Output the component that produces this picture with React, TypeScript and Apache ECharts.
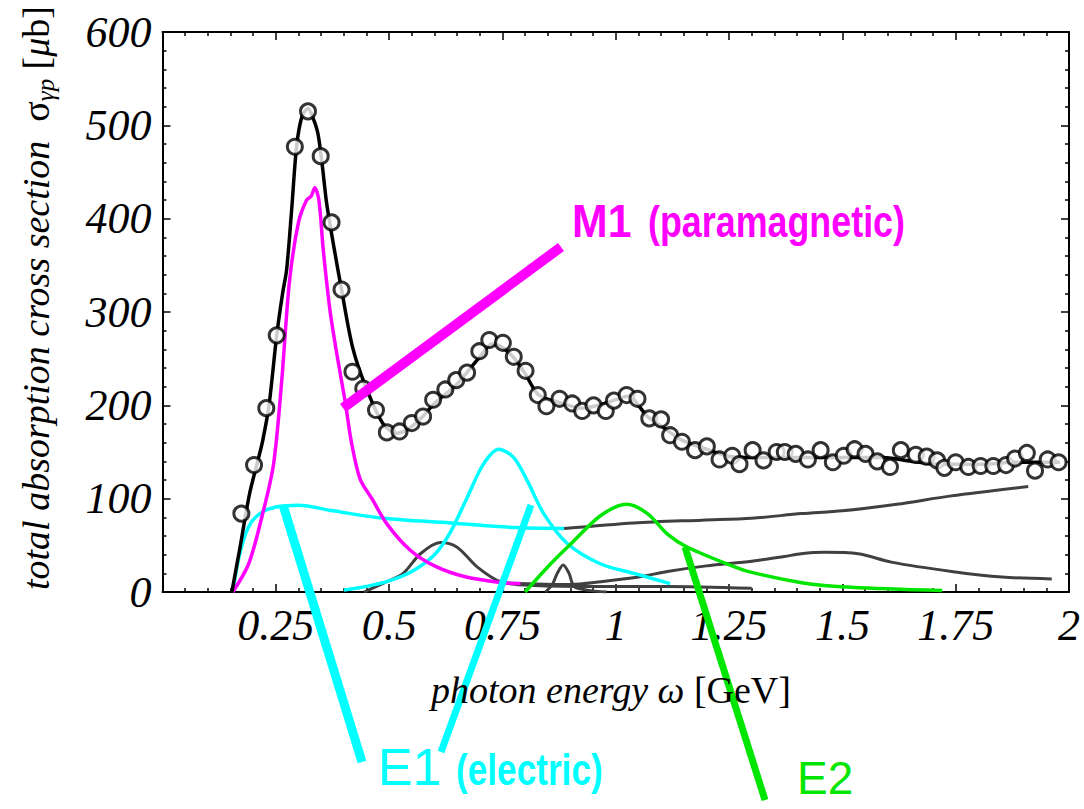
import React, { useEffect, useRef } from "react";
import * as echarts from "echarts";

// ---- data (photon energy in GeV, cross section in microbarn) ----
const totalFit: number[][] = [
  [0.153, 0], [0.17, 45], [0.192, 105], [0.21, 140], [0.221, 162], [0.235, 200], [0.252, 275],
  [0.265, 320], [0.274, 346], [0.285, 410], [0.296, 478], [0.308, 510], [0.321, 518], [0.332, 508],
  [0.343, 491], [0.353, 455], [0.362, 417], [0.378, 370], [0.395, 324], [0.42, 261], [0.45, 218],
  [0.487, 180], [0.517, 170], [0.54, 174], [0.57, 186], [0.6, 202], [0.65, 223], [0.7, 252],
  [0.728, 266], [0.75, 262], [0.775, 251], [0.8, 234], [0.826, 213], [0.85, 206], [0.87, 204],
  [0.925, 197], [0.96, 200], [0.993, 205], [1.03, 210], [1.05, 200], [1.07, 188], [1.1, 178],
  [1.145, 163], [1.2, 153], [1.257, 145], [1.33, 144], [1.45, 144], [1.59, 144], [1.64, 141],
  [1.71, 137], [1.81, 137], [1.88, 139], [1.98, 139],
];

const dataPoints: number[][] = [
  [0.174, 84], [0.202, 136], [0.229, 197], [0.252, 275], [0.292, 477], [0.321, 515], [0.349, 467],
  [0.373, 396], [0.395, 324], [0.419, 236], [0.443, 218], [0.471, 195], [0.495, 171], [0.523, 172],
  [0.55, 181], [0.575, 188], [0.597, 206], [0.624, 217], [0.648, 227], [0.672, 235], [0.699, 258],
  [0.721, 270], [0.751, 267], [0.775, 252], [0.801, 237], [0.828, 211], [0.847, 199], [0.876, 207],
  [0.904, 202], [0.926, 194], [0.951, 200], [0.978, 194], [0.996, 205], [1.024, 211], [1.048, 207],
  [1.074, 186], [1.1, 185], [1.12, 168], [1.146, 161], [1.175, 152], [1.201, 156], [1.229, 142],
  [1.257, 146], [1.273, 137], [1.302, 152], [1.326, 141], [1.355, 150], [1.373, 150], [1.397, 148],
  [1.424, 142], [1.452, 152], [1.479, 139], [1.503, 146], [1.527, 153], [1.551, 148], [1.577, 140],
  [1.605, 134], [1.629, 152], [1.662, 147], [1.686, 145], [1.709, 141], [1.725, 133], [1.75, 139],
  [1.778, 134], [1.805, 135], [1.833, 135], [1.861, 136], [1.881, 143], [1.907, 149], [1.925, 130],
  [1.953, 142], [1.977, 139],
];

const m1Curve: number[][] = [
  [0.155, 0], [0.19, 30], [0.22, 82], [0.245, 137], [0.263, 226], [0.28, 332], [0.3, 396],
  [0.318, 420], [0.328, 424], [0.336, 433], [0.345, 420], [0.355, 365], [0.37, 300], [0.385, 254],
  [0.403, 204], [0.417, 160], [0.436, 121], [0.462, 100], [0.495, 73], [0.546, 45], [0.6, 28],
  [0.67, 16], [0.75, 10], [0.79, 9],
];

const e1Broad: number[][] = [
  [0.155, 0], [0.17, 40], [0.19, 70], [0.215, 84], [0.25, 91], [0.3, 93], [0.376, 87],
  [0.487, 79], [0.635, 74], [0.78, 69], [0.886, 68],
];

const broadTail: number[][] = [
  [0.886, 68], [1.04, 74], [1.19, 77], [1.3, 79], [1.41, 84], [1.5, 87], [1.62, 94],
  [1.74, 103], [1.91, 113],
];

const e1Resonance: number[][] = [
  [0.4, 2], [0.45, 6], [0.5, 12], [0.55, 22], [0.6, 40], [0.635, 64], [0.672, 101], [0.708, 137],
  [0.742, 153], [0.775, 144], [0.805, 119], [0.841, 84], [0.893, 52], [0.967, 30], [1.04, 20],
  [1.12, 9],
];

const grayPeakA: number[][] = [
  [0.445, 0], [0.49, 10], [0.531, 20], [0.569, 41], [0.613, 53], [0.65, 48], [0.694, 27],
  [0.746, 11], [0.82, 7], [0.97, 6], [1.11, 6], [1.3, 4],
];

const grayPeakB: number[][] = [
  [0.845, 0], [0.86, 8], [0.871, 20], [0.884, 29], [0.897, 20], [0.908, 6], [0.937, 2], [0.98, 0],
];

const grayBump: number[][] = [
  [0.75, 10], [0.9, 8], [0.967, 11], [1.05, 16], [1.114, 22], [1.2, 28], [1.3, 33], [1.372, 38],
  [1.409, 41], [1.46, 42.5], [1.535, 41], [1.608, 32], [1.741, 22], [1.852, 16], [1.962, 14],
];

const e2Curve: number[][] = [
  [0.8, 0], [0.856, 30], [0.908, 55], [0.967, 82], [1.024, 94], [1.07, 84], [1.114, 62],
  [1.158, 48], [1.262, 27], [1.3, 21], [1.41, 10], [1.52, 5], [1.72, 1.5],
];

const X_MIN = 0, X_MAX = 2, X_STEP = 0.25;
const Y_MIN = 0, Y_MAX = 600, Y_STEP = 100;

const SERIF = "'Liberation Serif', 'DejaVu Serif', 'Times New Roman', serif";
const SANS = "'Liberation Sans', Arial, Helvetica, sans-serif";
const MAGENTA = "#ff00ff";
const CYAN = "#00ffff";
const GREEN = "#00e600";
const GRAY = "#404040";

function curve(data: number[][], color: string, width = 3, z = 2) {
  return {
    type: "line",
    data,
    showSymbol: false,
    smooth: 0.3,
    lineStyle: { color, width },
    z,
    silent: true,
  };
}

const axisLineStyle = { color: "#000", width: 2 };

export default function App() {
  const ref = useRef<HTMLDivElement>(null);

  useEffect(() => {
    if (!ref.current) return;
    const chart = echarts.init(ref.current, undefined, { renderer: "svg" });

    const xCommon = {
      type: "value",
      min: X_MIN,
      max: X_MAX,
      interval: X_STEP,
      splitLine: { show: false },
      axisLine: { show: true, onZero: false, lineStyle: axisLineStyle },
      axisTick: { show: true, inside: true, length: 8, lineStyle: { color: "#000", width: 1.5 } },
      minorTick: { show: true, splitNumber: 5, length: 4, lineStyle: { color: "#000", width: 1.5 } },
    };
    const yCommon = {
      type: "value",
      min: Y_MIN,
      max: Y_MAX,
      interval: Y_STEP,
      splitLine: { show: false },
      axisLine: { show: true, onZero: false, lineStyle: axisLineStyle },
      axisTick: { show: true, inside: true, length: 8, lineStyle: { color: "#000", width: 1.5 } },
      minorTick: { show: true, splitNumber: 5, length: 4, lineStyle: { color: "#000", width: 1.5 } },
    };

    const option: any = {
      animation: false,
      backgroundColor: "#ffffff",
      grid: { left: 162.5, right: 15, top: 32, bottom: 217 },
      xAxis: [
        {
          ...xCommon,
          position: "bottom",
          axisLabel: {
            margin: 11,
            color: "#000",
            fontFamily: SERIF,
            fontStyle: "italic",
            fontSize: 44,
            formatter: (v: number) => (v === 0 ? "" : String(v)),
          },
        },
        { ...xCommon, position: "top", axisLabel: { show: false } },
      ],
      yAxis: [
        {
          ...yCommon,
          position: "left",
          axisLabel: {
            margin: 11,
            color: "#000",
            fontFamily: SERIF,
            fontStyle: "italic",
            fontSize: 44,
          },
        },
        { ...yCommon, position: "right", axisLabel: { show: false } },
      ],
      series: [
        curve(e1Broad, CYAN, 3.5),
        curve(broadTail, GRAY, 3),
        curve(grayPeakA, GRAY, 3),
        curve(grayPeakB, GRAY, 3),
        curve(grayBump, GRAY, 3),
        curve(e1Resonance, CYAN, 3.5),
        curve(e2Curve, GREEN, 3.5),
        curve(m1Curve, MAGENTA, 3.5),
        curve(totalFit, "#000", 3.5, 3),
        {
          type: "scatter",
          data: dataPoints,
          symbol: "circle",
          symbolSize: 15,
          itemStyle: { color: "#ffffff", borderColor: "#000", borderWidth: 3 },
          z: 4,
          silent: true,
        },
      ],
      graphic: [
        // pointer lines
        { type: "line", z: 100, shape: { x1: 343, y1: 408, x2: 561, y2: 247 }, style: { stroke: MAGENTA, lineWidth: 10 } },
        { type: "line", z: 100, shape: { x1: 283, y1: 505, x2: 362, y2: 762 }, style: { stroke: CYAN, lineWidth: 9 } },
        { type: "line", z: 100, shape: { x1: 531, y1: 505, x2: 441, y2: 752 }, style: { stroke: CYAN, lineWidth: 7 } },
        { type: "line", z: 100, shape: { x1: 685, y1: 547, x2: 765, y2: 800 }, style: { stroke: GREEN, lineWidth: 7 } },
        // labels
        {
          type: "text", z: 101, x: 572, y: 221, scaleX: 0.93,
          style: { text: "M1", fontFamily: SANS, fontWeight: "bold", fontSize: 46, fill: MAGENTA, align: "left", verticalAlign: "middle" },
        },
        {
          type: "text", z: 101, x: 648, y: 222, scaleX: 0.815,
          style: { text: "(paramagnetic)", fontFamily: SANS, fontWeight: "bold", fontSize: 44, fill: MAGENTA, align: "left", verticalAlign: "middle" },
        },
        {
          type: "text", z: 101, x: 378, y: 767,
          style: { text: "E1", fontFamily: SANS, fontSize: 52, fill: CYAN, align: "left", verticalAlign: "middle" },
        },
        {
          type: "text", z: 101, x: 456, y: 770, scaleX: 0.8,
          style: { text: "(electric)", fontFamily: SANS, fontWeight: "bold", fontSize: 44, fill: CYAN, align: "left", verticalAlign: "middle" },
        },
        {
          type: "text", z: 101, x: 797, y: 778,
          style: { text: "E2", fontFamily: SANS, fontSize: 46, fill: GREEN, align: "left", verticalAlign: "middle" },
        },
        // axis titles
        {
          type: "text", z: 101, x: 611, y: 690,
          style: {
            text: "{i|photon energy ω }{r|[GeV]}",
            align: "center",
            verticalAlign: "middle",
            rich: {
              i: { fontFamily: SERIF, fontStyle: "italic", fontSize: 38, fill: "#000" },
              r: { fontFamily: SERIF, fontSize: 38, fill: "#000" },
            },
          },
        },
        {
          type: "text", z: 101, x: 36, y: 298, rotation: Math.PI / 2,
          style: {
            text: "{i|total absorption cross section  }{r|σ}{s|γp}{r| [}{i|μ}{r|b]}",
            align: "center",
            verticalAlign: "middle",
            rich: {
              i: { fontFamily: SERIF, fontStyle: "italic", fontSize: 38, lineHeight: 44, fill: "#000" },
              r: { fontFamily: SERIF, fontSize: 38, lineHeight: 44, fill: "#000" },
              s: { fontFamily: SERIF, fontStyle: "italic", fontSize: 25, lineHeight: 20, verticalAlign: "bottom", fill: "#000" },
            },
          },
        },
      ],
    };

    chart.setOption(option);
    return () => chart.dispose();
  }, []);

  return (
    <div
      ref={ref}
      style={{ position: "fixed", left: 0, top: 0, width: 1084, height: 809, background: "#fff" }}
    />
  );
}
